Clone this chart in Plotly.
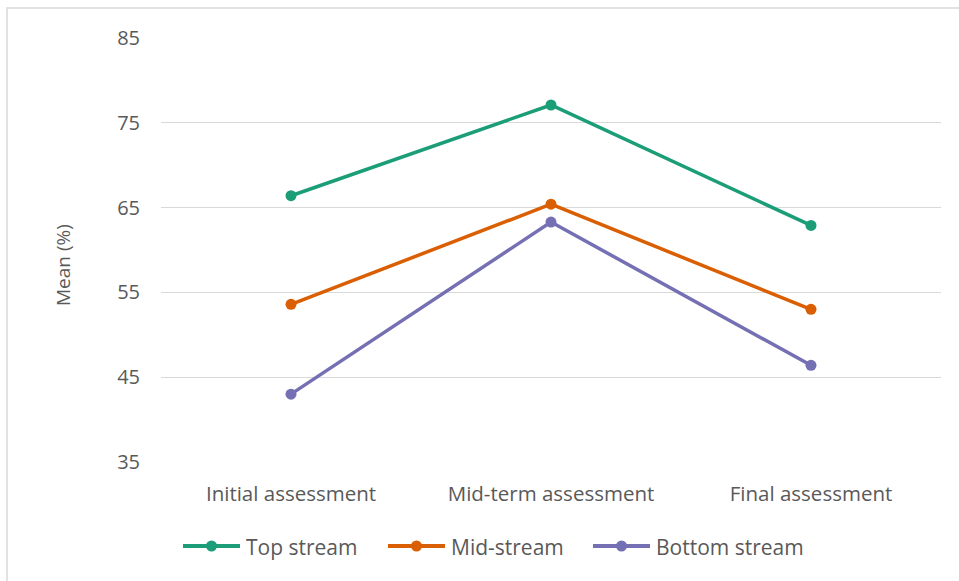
import plotly.graph_objects as go

# Assessment stages on the x axis
stages = ["Initial assessment", "Mid-term assessment", "Final assessment"]

# Mean scores (%) for each stream
top_stream = [66.4, 77.1, 62.9]
mid_stream = [53.6, 65.4, 53.0]
bottom_stream = [43.0, 63.3, 46.4]

series_names = ["Top stream", "Mid-stream", "Bottom stream"]
series_colors = ["#1b9e77", "#d95f02", "#7570b3"]

y_ticks = [35, 45, 55, 65, 75, 85]

FONT = "'Open Sans', sans-serif"
TEXT_COLOR = "#595959"

W, H = 959, 581
ML, MR, MT, MB = 161, 18, 38, 119
pw = W - ML - MR
ph = H - MT - MB


def px_x(p):
    """Horizontal pixel -> paper fraction."""
    return (p - ML) / pw


def px_y(p):
    """Vertical pixel (from top) -> paper fraction."""
    return (H - MB - p) / ph


fig = go.Figure()
for name, values, color in zip(series_names, [top_stream, mid_stream, bottom_stream], series_colors):
    fig.add_trace(go.Scatter(
        x=stages, y=values, name=name, mode="lines+markers",
        line=dict(color=color, width=3.5),
        marker=dict(color=color, size=11, symbol="circle"),
        showlegend=False,
    ))

# Legend row below the axis: long line key with a dot, then the label
shapes = []
annotations = []
legend_starts = [183, 388, 593]
LEG_Y = 546
for name, color, x0 in zip(series_names, series_colors, legend_starts):
    shapes.append(dict(
        type="line", xref="paper", yref="paper",
        x0=px_x(x0), x1=px_x(x0 + 57), y0=px_y(LEG_Y), y1=px_y(LEG_Y),
        line=dict(color=color, width=4),
    ))
    shapes.append(dict(
        type="circle", xref="paper", yref="paper",
        xsizemode="pixel", ysizemode="pixel",
        xanchor=px_x(x0 + 28.5), yanchor=px_y(LEG_Y),
        x0=-5.5, x1=5.5, y0=-5.5, y1=5.5,
        fillcolor=color, line=dict(color=color, width=0),
    ))
    annotations.append(dict(
        text=name, xref="paper", yref="paper",
        x=px_x(x0 + 61), y=px_y(LEG_Y + 1),
        xanchor="left", yanchor="middle", showarrow=False,
        font=dict(size=21, color=TEXT_COLOR),
    ))

annotations.append(dict(
    text="Mean (%)", textangle=-90,
    xref="paper", yref="paper",
    x=px_x(63), y=px_y(265),
    xanchor="center", yanchor="middle", showarrow=False,
    font=dict(size=19, color=TEXT_COLOR),
))

# Outer frame around the chart
shapes.append(dict(
    type="rect", xref="paper", yref="paper",
    x0=px_x(7), x1=px_x(W + 20),
    y0=px_y(H + 20), y1=px_y(8),
    line=dict(color="#d9d9d9", width=1.5), fillcolor="rgba(0,0,0,0)",
    layer="below",
))

fig.update_layout(
    width=W, height=H,
    margin=dict(l=ML, r=MR, t=MT, b=MB, autoexpand=False),
    paper_bgcolor="white", plot_bgcolor="white",
    font=dict(family=FONT, color=TEXT_COLOR, size=20),
    showlegend=False,
    xaxis=dict(
        range=[-0.5, 2.5],
        showgrid=False, zeroline=False, showline=False,
        ticks="", ticklabelstandoff=17, automargin=False,
        tickfont=dict(size=20.5, color=TEXT_COLOR),
    ),
    yaxis=dict(
        range=[35, 85], tickvals=y_ticks,
        showgrid=True, gridcolor="#d9d9d9", gridwidth=1,
        zeroline=False, showline=False, ticks="",
        ticklabelstandoff=20, automargin=False,
        tickfont=dict(size=20, color=TEXT_COLOR),
    ),
    annotations=annotations,
    shapes=shapes,
)

fig.write_html("out.html")
